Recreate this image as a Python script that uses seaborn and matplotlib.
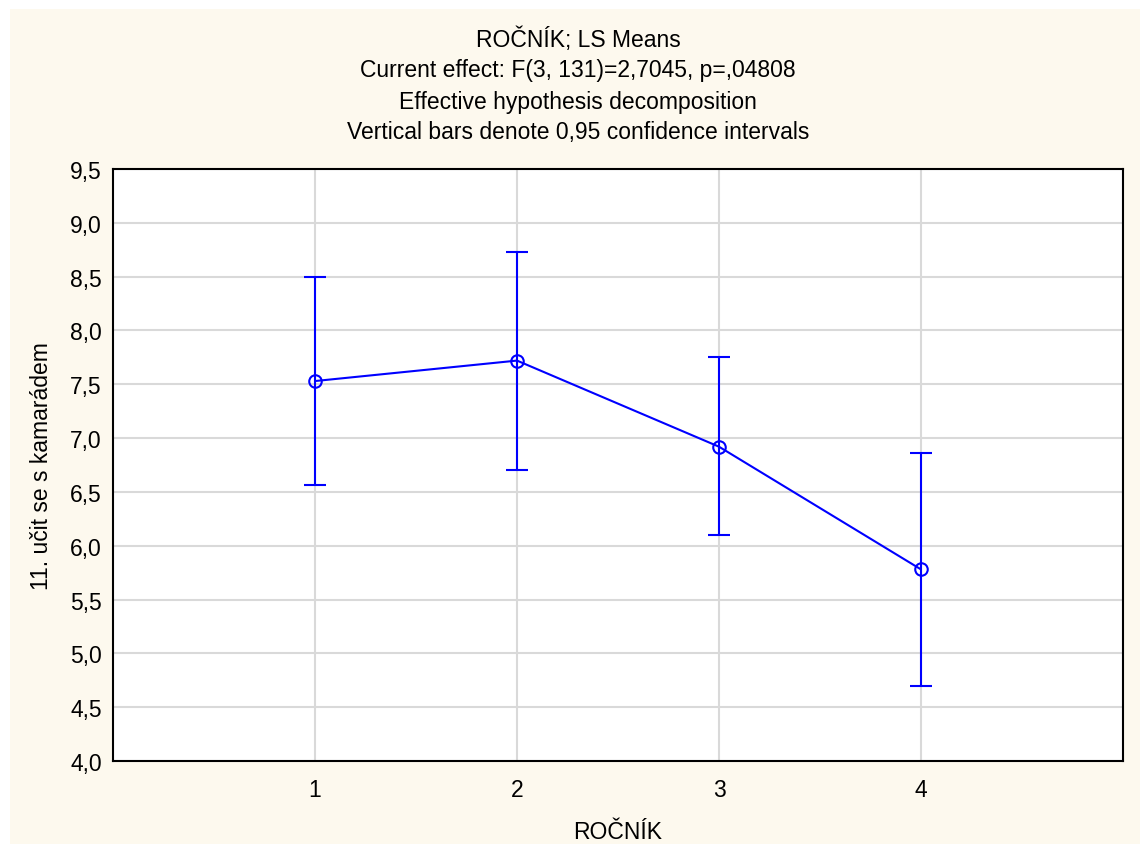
import matplotlib
matplotlib.use("Agg")
import numpy as np
import pandas as pd
import seaborn as sns
from matplotlib import pyplot as plt
from matplotlib.patches import Rectangle
from matplotlib.ticker import FuncFormatter, MultipleLocator

# LS means of "11. učit se s kamarádem" per ROČNÍK
rocnik = [1, 2, 3, 4]
means = [7.53, 7.72, 6.92, 5.78]
ci_low = [6.56, 6.70, 6.10, 4.70]
ci_high = [8.50, 8.73, 7.75, 6.86]

title_lines = [
    "ROČNÍK; LS Means",
    "Current effect: F(3, 131)=2,7045, p=,04808",
    "Effective hypothesis decomposition",
    "Vertical bars denote 0,95 confidence intervals",
]

sns.set_theme(style="white")
plt.rcParams["font.family"] = ["Liberation Sans", "DejaVu Sans"]

W, H = 1140, 845
fig = plt.figure(figsize=(W / 100, H / 100), dpi=100, facecolor="white")
# cream panel with a thin white strip on top / left
fig.patches.append(Rectangle((10 / W, 0), 1 - 10 / W, 1 - 10 / H,
                             transform=fig.transFigure, facecolor="#fdf9ee",
                             edgecolor="none", zorder=-5))

ax = fig.add_axes([113 / W, 1 - 762 / H, (1123 - 113) / W, (762 - 170) / H])
ax.set_facecolor("white")

df = pd.DataFrame({"ROČNÍK": rocnik, "mean": means, "lo": ci_low, "hi": ci_high})
blue = "#0000ff"

ax.errorbar(df["ROČNÍK"], df["mean"],
            yerr=[df["mean"] - df["lo"], df["hi"] - df["mean"]],
            fmt="none", ecolor=blue, elinewidth=1.5, capsize=8,
            capthick=1.5, zorder=3)
sns.lineplot(data=df, x="ROČNÍK", y="mean", ax=ax, color=blue, lw=1.5,
             marker="o", markersize=9, markerfacecolor="none",
             markeredgecolor=blue, markeredgewidth=1.5, zorder=4)

ax.set_xlim(0, 5)
ax.set_ylim(4.0, 9.5)
ax.set_xticks(rocnik)
ax.yaxis.set_major_locator(MultipleLocator(0.5))
ax.yaxis.set_major_formatter(FuncFormatter(lambda v, _: f"{v:.1f}".replace(".", ",")))
ax.grid(True, color="#d9d9d9", lw=1.5)
ax.set_axisbelow(True)
for s in ax.spines.values():
    s.set_color("black")
    s.set_linewidth(1.5)
ax.tick_params(axis="both", labelsize=16.5, colors="black", length=0)
ax.tick_params(axis="x", pad=12)
ax.tick_params(axis="y", pad=8)

ax.set_xlabel("ROČNÍK", fontsize=16.5, labelpad=14, color="black")
ax.set_ylabel("11. učit se s kamarádem", fontsize=16.5, labelpad=12, color="black")

for i, line in enumerate(title_lines):
    fig.text(578 / W, 1 - (40 + 31 * i) / H, line,
             ha="center", va="center", fontsize=16.5, color="black")

fig.savefig("out.png", dpi=100, facecolor=fig.get_facecolor())
